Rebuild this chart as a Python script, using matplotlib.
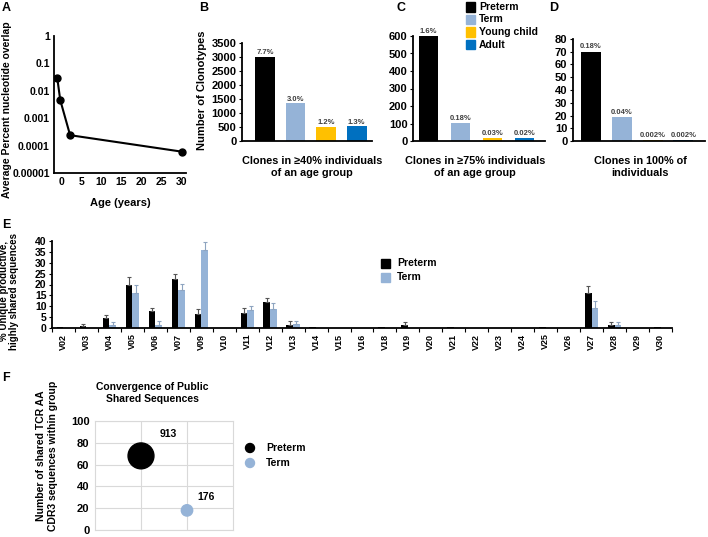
import matplotlib
matplotlib.use('Agg')
import matplotlib.pyplot as plt
from matplotlib.patches import Rectangle, Ellipse
import numpy as np

plt.rcParams['font.family'] = ['Liberation Sans', 'DejaVu Sans']
plt.rcParams['font.weight'] = 'bold'
plt.rcParams['axes.linewidth'] = 1.3

W, H = 708, 537

# ── data ──────────────────────────────────────────────────────────────────────
age_years = [-1.0, -0.25, 2.2, 30.0]
nt_overlap = [0.03, 0.0046, 0.00024, 0.00006]
a_yticks = [0.00001, 0.0001, 0.001, 0.01, 0.1, 1]
a_ytick_labels = ['0.00001', '0.0001', '0.001', '0.01', '0.1', '1']

groups = ['Preterm', 'Term', 'Young child', 'Adult']
group_colors = ['#000000', '#95B3D7', '#FFC000', '#0070C0']

clones_40 = [3000, 1350, 510, 520]
pct_40 = ['7.7%', '3.0%', '1.2%', '1.3%']
clones_75 = [600, 104, 17, 17]
pct_75 = ['1.6%', '0.18%', '0.03%', '0.02%']
clones_100 = [70, 19, 0.8, 0.8]
pct_100 = ['0.18%', '0.04%', '0.002%', '0.002%']

v_genes = ['V02', 'V03', 'V04', 'V05', 'V06', 'V07', 'V09', 'V10', 'V11', 'V12',
           'V13', 'V14', 'V15', 'V16', 'V18', 'V19', 'V20', 'V21', 'V22', 'V23',
           'V24', 'V25', 'V26', 'V27', 'V28', 'V29', 'V30']
preterm_pct = [0.3, 0.9, 4.4, 20.0, 7.9, 22.3, 6.4, 0.2, 6.9, 12.1,
               1.5, 0.3, 0, 0, 0.3, 1.4, 0, 0.3, 0, 0,
               0, 0.3, 0, 16.0, 1.5, 0, 0.3]
preterm_err = [0, 0.9, 1.5, 3.5, 1.5, 2.6, 2.3, 0, 2.3, 1.7,
               1.7, 0, 0, 0, 0, 1.4, 0, 0, 0, 0,
               0, 0, 0, 3.5, 1.2, 0, 0]
term_pct = [0.2, 0.1, 1.2, 16.0, 1.5, 17.7, 35.9, 0.1, 8.1, 8.7,
            1.8, 0, 0, 0, 0.1, 0.1, 0, 0, 0, 0,
            0, 0, 0, 9.0, 1.5, 0, 0]
term_err = [0, 0, 1.4, 3.8, 1.8, 2.6, 3.8, 0, 2.1, 2.7,
            1.4, 0, 0, 0, 0, 0, 0, 0, 0, 0,
            0, 0, 0, 3.5, 1.2, 0, 0]

bubble_groups = ['Preterm', 'Term']
bubble_x = [1, 2]
bubble_y = [68, 18]
bubble_n = [913, 176]

fig = plt.figure(figsize=(W / 100, H / 100), dpi=100)


def px_axes(l, t, r, b):
    return fig.add_axes([l / W, 1 - b / H, (r - l) / W, (b - t) / H])


def px_text(x, y, s, **kw):
    kw.setdefault('ha', 'center')
    kw.setdefault('va', 'center')
    kw.setdefault('fontweight', 'bold')
    fig.text(x / W, 1 - y / H, s, **kw)


def clean(ax):
    ax.spines['top'].set_visible(False)
    ax.spines['right'].set_visible(False)


# ── A: overlap vs age ─────────────────────────────────────────────────────────
ax = px_axes(54, 36, 186, 173)
ax.plot(age_years, nt_overlap, '-o', color='k', lw=1.5, ms=5)
ax.set_yscale('log')
ax.set_ylim(1e-5, 1)
ax.set_xlim(-1.8, 31)
ax.set_yticks(a_yticks)
ax.set_yticklabels(a_ytick_labels)
ax.minorticks_off()
ax.set_xticks(range(0, 31, 5))
ax.tick_params(length=0, labelsize=7.5, pad=3)
clean(ax)
px_text(120, 203, 'Age (years)', fontsize=8)
px_text(7, 110, 'Average Percent nucleotide overlap', fontsize=7.5, rotation=90)
px_text(6, 8, 'A', fontsize=9)


# ── B, C, D: clone bars ───────────────────────────────────────────────────────
def clone_panel(box, vals, pcts, ymax, ystep, xlim, width, off):
    ax = px_axes(*box)
    x = np.arange(len(vals))
    ax.bar(x, vals, width=width, color=group_colors)
    for xi, v, p in zip(x, vals, pcts):
        ax.text(xi, v + off, p, ha='center', va='bottom', fontsize=5.5, color='#404040')
    ax.set_ylim(0, ymax)
    ax.set_xlim(*xlim)
    ax.set_yticks(np.arange(0, ymax + 1, ystep))
    ax.set_xticks([])
    ax.tick_params(axis='y', length=2, labelsize=8, pad=2)
    clean(ax)
    return ax


clone_panel((242, 43, 372, 141), clones_40, pct_40, 3500, 500, (-0.75, 3.5), 0.65, 20)
px_text(202, 90, 'Number of Clonotypes', fontsize=8, rotation=90)
px_text(312, 167, 'Clones in \u226540% individuals\nof an age group', fontsize=7.8, linespacing=1.15)
px_text(204, 8, 'B', fontsize=9)

clone_panel((413, 36, 545, 141), clones_75, pct_75, 600, 100, (-0.48, 3.64), 0.6, 4)
px_text(475, 167, 'Clones in \u226575% individuals\nof an age group', fontsize=7.8, linespacing=1.15)
px_text(401, 8, 'C', fontsize=9)

clone_panel((573, 39, 705, 141), clones_100, pct_100, 80, 10, (-0.58, 3.7), 0.65, 1)
px_text(640, 167, 'Clones in 100% of\nindividuals', fontsize=7.8, linespacing=1.15)
px_text(554, 8, 'D', fontsize=9)

# legend for B-D
for i, (g, c) in enumerate(zip(groups, group_colors)):
    yy = 7 + i * 12.5
    fig.patches.append(Rectangle((466 / W, 1 - (yy + 4.5) / H), 9 / W, 9 / H,
                                 color=c, transform=fig.transFigure))
    px_text(479, yy, g, fontsize=7.5, ha='left')


# ── E: V gene usage ───────────────────────────────────────────────────────────
ax = px_axes(52, 241, 672, 328)
x = np.arange(len(v_genes))
w = 0.29
pre = np.array(preterm_pct)
trm = np.array(term_pct)
pre_e = np.array(preterm_err)
trm_e = np.array(term_err)
ax.bar(x - w / 2, pre, width=w, color=group_colors[0])
ax.bar(x + w / 2, trm, width=w, color=group_colors[1])
m = pre_e > 0
ax.errorbar(x[m] - w / 2, pre[m], yerr=[np.zeros(m.sum()), pre_e[m]], fmt='none',
            ecolor='#555555', elinewidth=0.8, capsize=1.5, capthick=0.8)
m = trm_e > 0
ax.errorbar(x[m] + w / 2, trm[m], yerr=[np.zeros(m.sum()), trm_e[m]], fmt='none',
            ecolor='#8EA4C0', elinewidth=0.8, capsize=1.5, capthick=0.8)
ax.set_xlim(-0.5, len(v_genes) - 0.5)
ax.set_ylim(0, 40)
ax.set_yticks(range(0, 41, 5))
ax.set_xticks(x)
ax.set_xticklabels(v_genes, rotation=90, fontsize=6.5)
ax.set_xticks(np.arange(-0.5, len(v_genes), 1), minor=True)
ax.tick_params(axis='x', which='major', length=0, pad=4)
ax.tick_params(axis='x', which='minor', length=3, width=0.8)
ax.tick_params(axis='y', length=2, labelsize=7.5, pad=2)
clean(ax)
px_text(9, 291, '% Unique productive,\nhighly shared sequences', fontsize=7,
        rotation=90, linespacing=1.1)
px_text(6, 225, 'E', fontsize=9)
for i in range(2):
    yy = 263 + i * 14
    fig.patches.append(Rectangle((381 / W, 1 - (yy + 4.5) / H), 9 / W, 9 / H,
                                 color=group_colors[i], transform=fig.transFigure))
    px_text(397, yy, groups[i], fontsize=7.5, ha='left')


# ── F: bubble chart ───────────────────────────────────────────────────────────
ax = px_axes(95, 421, 233, 530)
sizes = [n * 0.38 for n in bubble_n]
ax.scatter(bubble_x, bubble_y, s=sizes, c=group_colors[:2], zorder=3, clip_on=False)
for bx, by, n, s in zip(bubble_x, bubble_y, bubble_n, sizes):
    d = np.sqrt(s) * 0.55 + 3
    ax.annotate(str(n), (bx, by), xytext=(d, d), textcoords='offset points',
                fontsize=7.5, fontweight='bold')
ax.set_xlim(0, 3)
ax.set_ylim(0, 100)
ax.set_xticks([1, 2])
ax.set_xticklabels([])
ax.set_yticks(range(0, 101, 20))
ax.grid(True, color='#D9D9D9', lw=0.8)
ax.set_axisbelow(True)
for sp in ax.spines.values():
    sp.set_color('#D9D9D9')
    sp.set_linewidth(0.8)
ax.tick_params(length=0, labelsize=8, pad=4)
px_text(152, 393, 'Convergence of Public\nShared Sequences', fontsize=7.5, linespacing=1.2)
px_text(47, 456, 'Number of shared TCR AA\nCDR3 sequences within group', fontsize=7.5,
        rotation=90, linespacing=1.2)
px_text(6, 378, 'F', fontsize=9)
for i, g in enumerate(bubble_groups):
    yy = 448 + i * 15
    fig.patches.append(Ellipse((250 / W, 1 - yy / H), 9 / W, 9 / H, color=group_colors[i],
                               transform=fig.transFigure))
    px_text(266, yy, g, fontsize=7.5, ha='left')

fig.savefig('out.png', dpi=100)
